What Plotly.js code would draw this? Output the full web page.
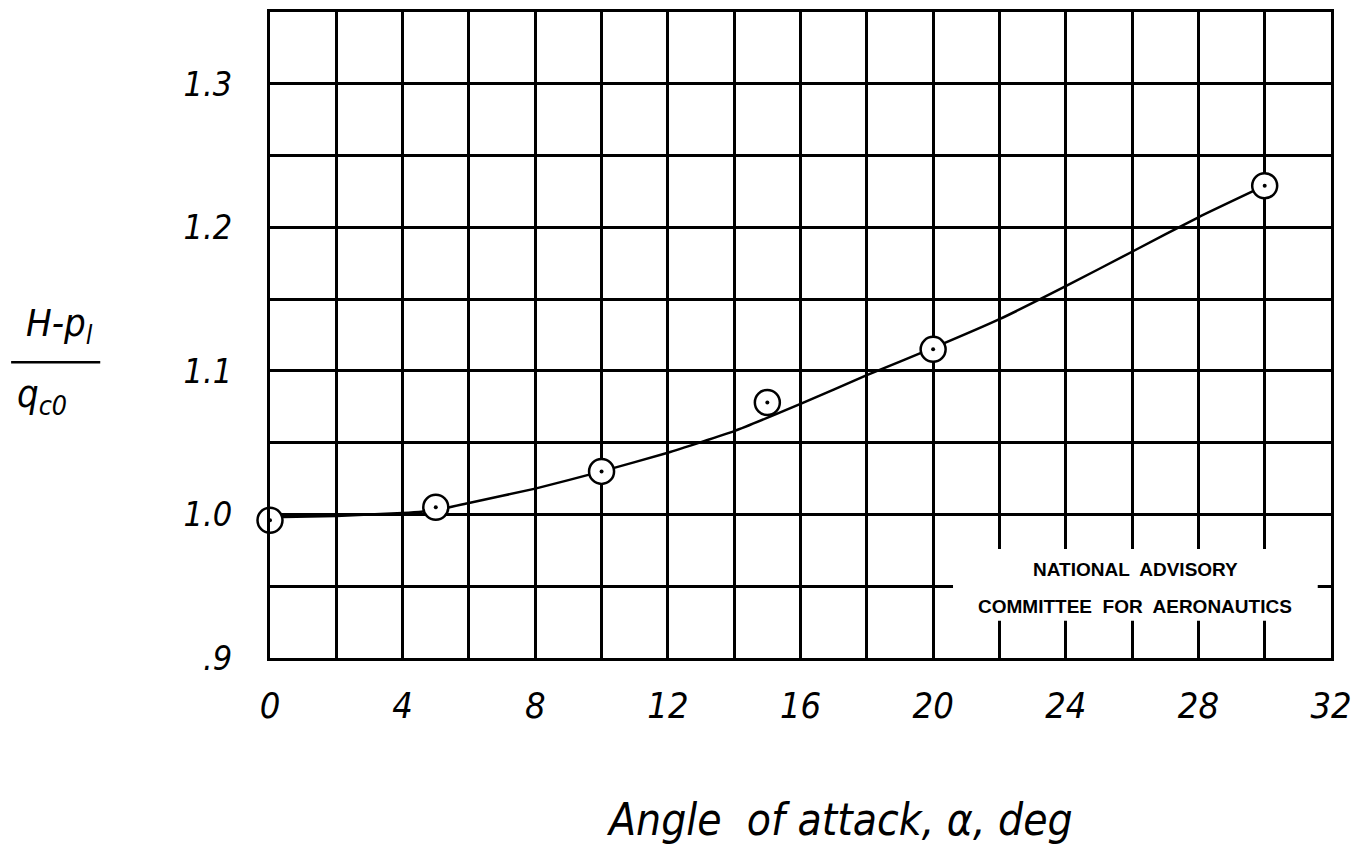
<!DOCTYPE html>
<html>
<head>
<meta charset="utf-8">
<script src="https://cdn.plot.ly/plotly-3.0.1.min.js"></script>
<style>html,body{margin:0;padding:0;background:#fff;}#chart{width:1360px;height:855px;}</style>
</head>
<body>
<div id="chart"></div>
<script>
// Faired curve
const curveX = [0, 2, 4, 5, 6, 8, 10, 12, 14, 16, 18, 20, 22, 24, 26, 28, 30];
const curveY = [0.998, 0.999, 1.001, 1.003, 1.008, 1.018, 1.030, 1.043, 1.058, 1.077, 1.097, 1.116, 1.136, 1.159, 1.183, 1.207, 1.229];

// Measured points
const pointX = [0, 5, 10, 15, 20, 30];
const pointY = [0.996, 1.005, 1.030, 1.078, 1.115, 1.229];

// Ticks / grid
const xTickVals = [0, 2, 4, 6, 8, 10, 12, 14, 16, 18, 20, 22, 24, 26, 28, 30, 32];
const xTickText = ['0', '', '4', '', '8', '', '12', '', '16', '', '20', '', '24', '', '28', '', '32'];
const yTickVals = [0.9, 0.95, 1.0, 1.05, 1.1, 1.15, 1.2, 1.25, 1.3, 1.35];
const yTickText = ['.9', '', '1.0', '', '1.1', '', '1.2', '', '1.3', ''];

const xTitle = 'Angle  of attack, α, deg';
const yTitleTop = 'H-p<sub>l</sub>';
const yTitleBottom = 'q<sub>c0</sub>';
const stampLine1 = 'NATIONAL  ADVISORY';
const stampLine2 = 'COMMITTEE  FOR  AERONAUTICS';

const hand = 'Liberation Sans Narrow, DejaVu Sans Condensed, Liberation Sans, sans-serif';

const traces = [
  {x: curveX, y: curveY, mode: 'lines', type: 'scatter',
   line: {color: '#000', width: 2.5, shape: 'spline', smoothing: 0.4}, hoverinfo: 'skip'},
  {x: pointX, y: pointY, mode: 'markers', type: 'scatter', cliponaxis: false,
   marker: {symbol: 'circle', size: 25, color: '#fff', line: {color: '#000', width: 2.5}}},
  {x: pointX, y: pointY, mode: 'markers', type: 'scatter', cliponaxis: false,
   marker: {symbol: 'circle', size: 4, color: '#000'}}
];

const layout = {
  width: 1360, height: 855,
  paper_bgcolor: '#fff', plot_bgcolor: '#fff',
  showlegend: false,
  margin: {l: 270, r: 29, t: 12, b: 197},
  xaxis: {
    range: [0, 32], tickmode: 'array', tickvals: xTickVals, ticktext: xTickText,
    showgrid: true, gridcolor: '#000', gridwidth: 3, zeroline: false,
    showline: true, linecolor: '#000', linewidth: 3, mirror: true,
    ticks: '', ticklabelstandoff: 14,
    tickfont: {family: hand, size: 36, color: '#000', style: 'italic'}
  },
  yaxis: {
    range: [0.9, 1.35], tickmode: 'array', tickvals: yTickVals, ticktext: yTickText,
    showgrid: true, gridcolor: '#000', gridwidth: 3, zeroline: false,
    showline: true, linecolor: '#000', linewidth: 3, mirror: true,
    ticks: '', ticklabelstandoff: 28,
    tickfont: {family: hand, size: 34, color: '#000', style: 'italic'}
  },
  shapes: [
    {type: 'rect', xref: 'x', yref: 'y', x0: 20.6, x1: 31.6, y0: 0.926, y1: 0.976,
     fillcolor: '#fff', line: {width: 0}, layer: 'above'},
    {type: 'line', xref: 'paper', yref: 'paper', x0: -0.244, x1: -0.16, y0: 0.458, y1: 0.458,
     line: {color: '#000', width: 2.5}}
  ],
  annotations: [
    {xref: 'x', yref: 'y', x: 26.1, y: 0.962, text: '<b>' + stampLine1 + '</b>', showarrow: false,
     font: {family: 'Liberation Sans, Arial, sans-serif', size: 19, color: '#000'}},
    {xref: 'x', yref: 'y', x: 26.1, y: 0.936, text: '<b>' + stampLine2 + '</b>', showarrow: false,
     font: {family: 'Liberation Sans, Arial, sans-serif', size: 19, color: '#000'}},
    {xref: 'paper', yref: 'paper', x: 0.537, y: -0.25, text: xTitle, showarrow: false,
     yanchor: 'middle', font: {family: hand, size: 44, color: '#000', style: 'italic'}},
    {xref: 'paper', yref: 'paper', x: -0.232, y: 0.515, text: yTitleTop, showarrow: false,
     yanchor: 'middle', font: {family: hand, size: 38, color: '#000', style: 'italic'}},
    {xref: 'paper', yref: 'paper', x: -0.24, y: 0.405, text: yTitleBottom, showarrow: false,
     yanchor: 'middle', font: {family: hand, size: 38, color: '#000', style: 'italic'}}
  ]
};

Plotly.newPlot('chart', traces, layout, {displayModeBar: false, staticPlot: true});
</script>
</body>
</html>
